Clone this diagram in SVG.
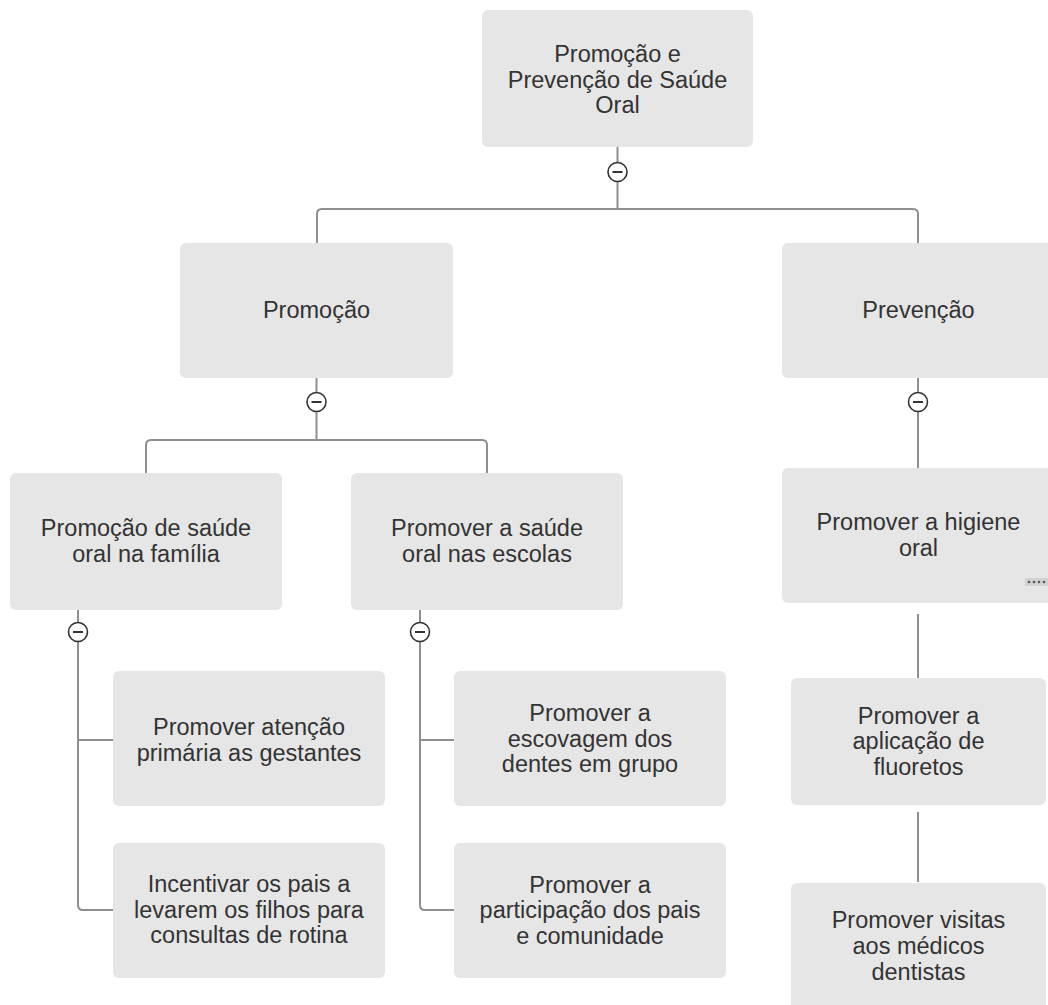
<svg xmlns="http://www.w3.org/2000/svg" width="1048" height="1005" viewBox="0 0 1048 1005">
<style>
.node rect.box{fill:#e6e6e6;stroke:none}
.node text{font-family:"Liberation Sans",Arial,sans-serif;font-size:23.5px;fill:#333333;text-anchor:middle}
.conn path{fill:none;stroke:#8f8f8f;stroke-width:2}
.tog circle{fill:#ffffff;stroke:#333333;stroke-width:1.6}
.tog path{stroke:#333333;stroke-width:2;fill:none}
</style>
<rect width="1048" height="1005" fill="#ffffff"/>
<g id="connectors" class="conn">
<path d="M617.5,147 V209"/>
<path d="M317,243 V214 Q317,209 322,209 H913 Q918,209 918,214 V243"/>
<path d="M316.5,378 V440"/>
<path d="M146,473 V445 Q146,440 151,440 H482 Q487,440 487,445 V473"/>
<path d="M918,378 V468"/>
<path d="M78,610 V905 Q78,910 83,910 H113"/>
<path d="M78,740 H113"/>
<path d="M420,610 V905 Q420,910 425,910 H454"/>
<path d="M420,740 H454"/>
<path d="M918,614 V678"/>
<path d="M918,812 V882"/>
</g>
<g id="toggles" class="tog">
<g><circle cx="617.5" cy="172" r="9.5"/><path d="M612.5,172 H622.5"/></g>
<g><circle cx="316.5" cy="402" r="9.5"/><path d="M311.5,402 H321.5"/></g>
<g><circle cx="918" cy="402" r="9.5"/><path d="M913,402 H923"/></g>
<g><circle cx="78" cy="632" r="9.5"/><path d="M73,632 H83"/></g>
<g><circle cx="420" cy="632" r="9.5"/><path d="M415,632 H425"/></g>
</g>
<g id="n-root" class="node"><rect class="box" x="482" y="10" width="271" height="137" rx="6"/>
<text x="617.5" y="62">Promoção e</text><text x="617.5" y="87.5">Prevenção de Saúde</text><text x="617.5" y="113">Oral</text></g>
<g id="n-promocao" class="node"><rect class="box" x="180" y="243" width="273" height="135" rx="6"/>
<text x="316.5" y="318">Promoção</text></g>
<g id="n-prevencao" class="node"><rect class="box" x="782" y="243" width="273" height="135" rx="6"/>
<text x="918.5" y="318">Prevenção</text></g>
<g id="n-familia" class="node"><rect class="box" x="10" y="473" width="272" height="137" rx="6"/>
<text x="146" y="536">Promoção de saúde</text><text x="146" y="561.5">oral na família</text></g>
<g id="n-escolas" class="node"><rect class="box" x="351" y="473" width="272" height="137" rx="6"/>
<text x="487" y="536">Promover a saúde</text><text x="487" y="561.5">oral nas escolas</text></g>
<g id="n-higiene" class="node"><rect class="box" x="782" y="468" width="273" height="135" rx="6"/>
<text x="918.5" y="530">Promover a higiene</text><text x="918.5" y="555.5">oral</text>
<rect x="1025" y="578" width="23" height="8" fill="#d2d2d2"/>
<g fill="#555555"><circle cx="1029" cy="582" r="1.3"/><circle cx="1034" cy="582" r="1.3"/><circle cx="1039" cy="582" r="1.3"/><circle cx="1044" cy="582" r="1.3"/></g></g>
<g id="n-gestantes" class="node"><rect class="box" x="113" y="671" width="272" height="135" rx="6"/>
<text x="249" y="735">Promover atenção</text><text x="249" y="761">primária as gestantes</text></g>
<g id="n-incentivar" class="node"><rect class="box" x="113" y="843" width="272" height="135" rx="6"/>
<text x="249" y="892">Incentivar os pais a</text><text x="249" y="917.5">levarem os filhos para</text><text x="249" y="943">consultas de rotina</text></g>
<g id="n-escovagem" class="node"><rect class="box" x="454" y="671" width="272" height="135" rx="6"/>
<text x="590" y="721">Promover a</text><text x="590" y="746.5">escovagem dos</text><text x="590" y="772">dentes em grupo</text></g>
<g id="n-participacao" class="node"><rect class="box" x="454" y="843" width="272" height="135" rx="6"/>
<text x="590" y="892.5">Promover a</text><text x="590" y="918">participação dos pais</text><text x="590" y="943.5">e comunidade</text></g>
<g id="n-fluoretos" class="node"><rect class="box" x="791" y="678" width="255" height="127" rx="6"/>
<text x="918.5" y="723.5">Promover a</text><text x="918.5" y="749">aplicação de</text><text x="918.5" y="774.5">fluoretos</text></g>
<g id="n-visitas" class="node"><rect class="box" x="791" y="883" width="255" height="135" rx="6"/>
<text x="918.5" y="928">Promover visitas</text><text x="918.5" y="954">aos médicos</text><text x="918.5" y="980">dentistas</text></g>
</svg>
